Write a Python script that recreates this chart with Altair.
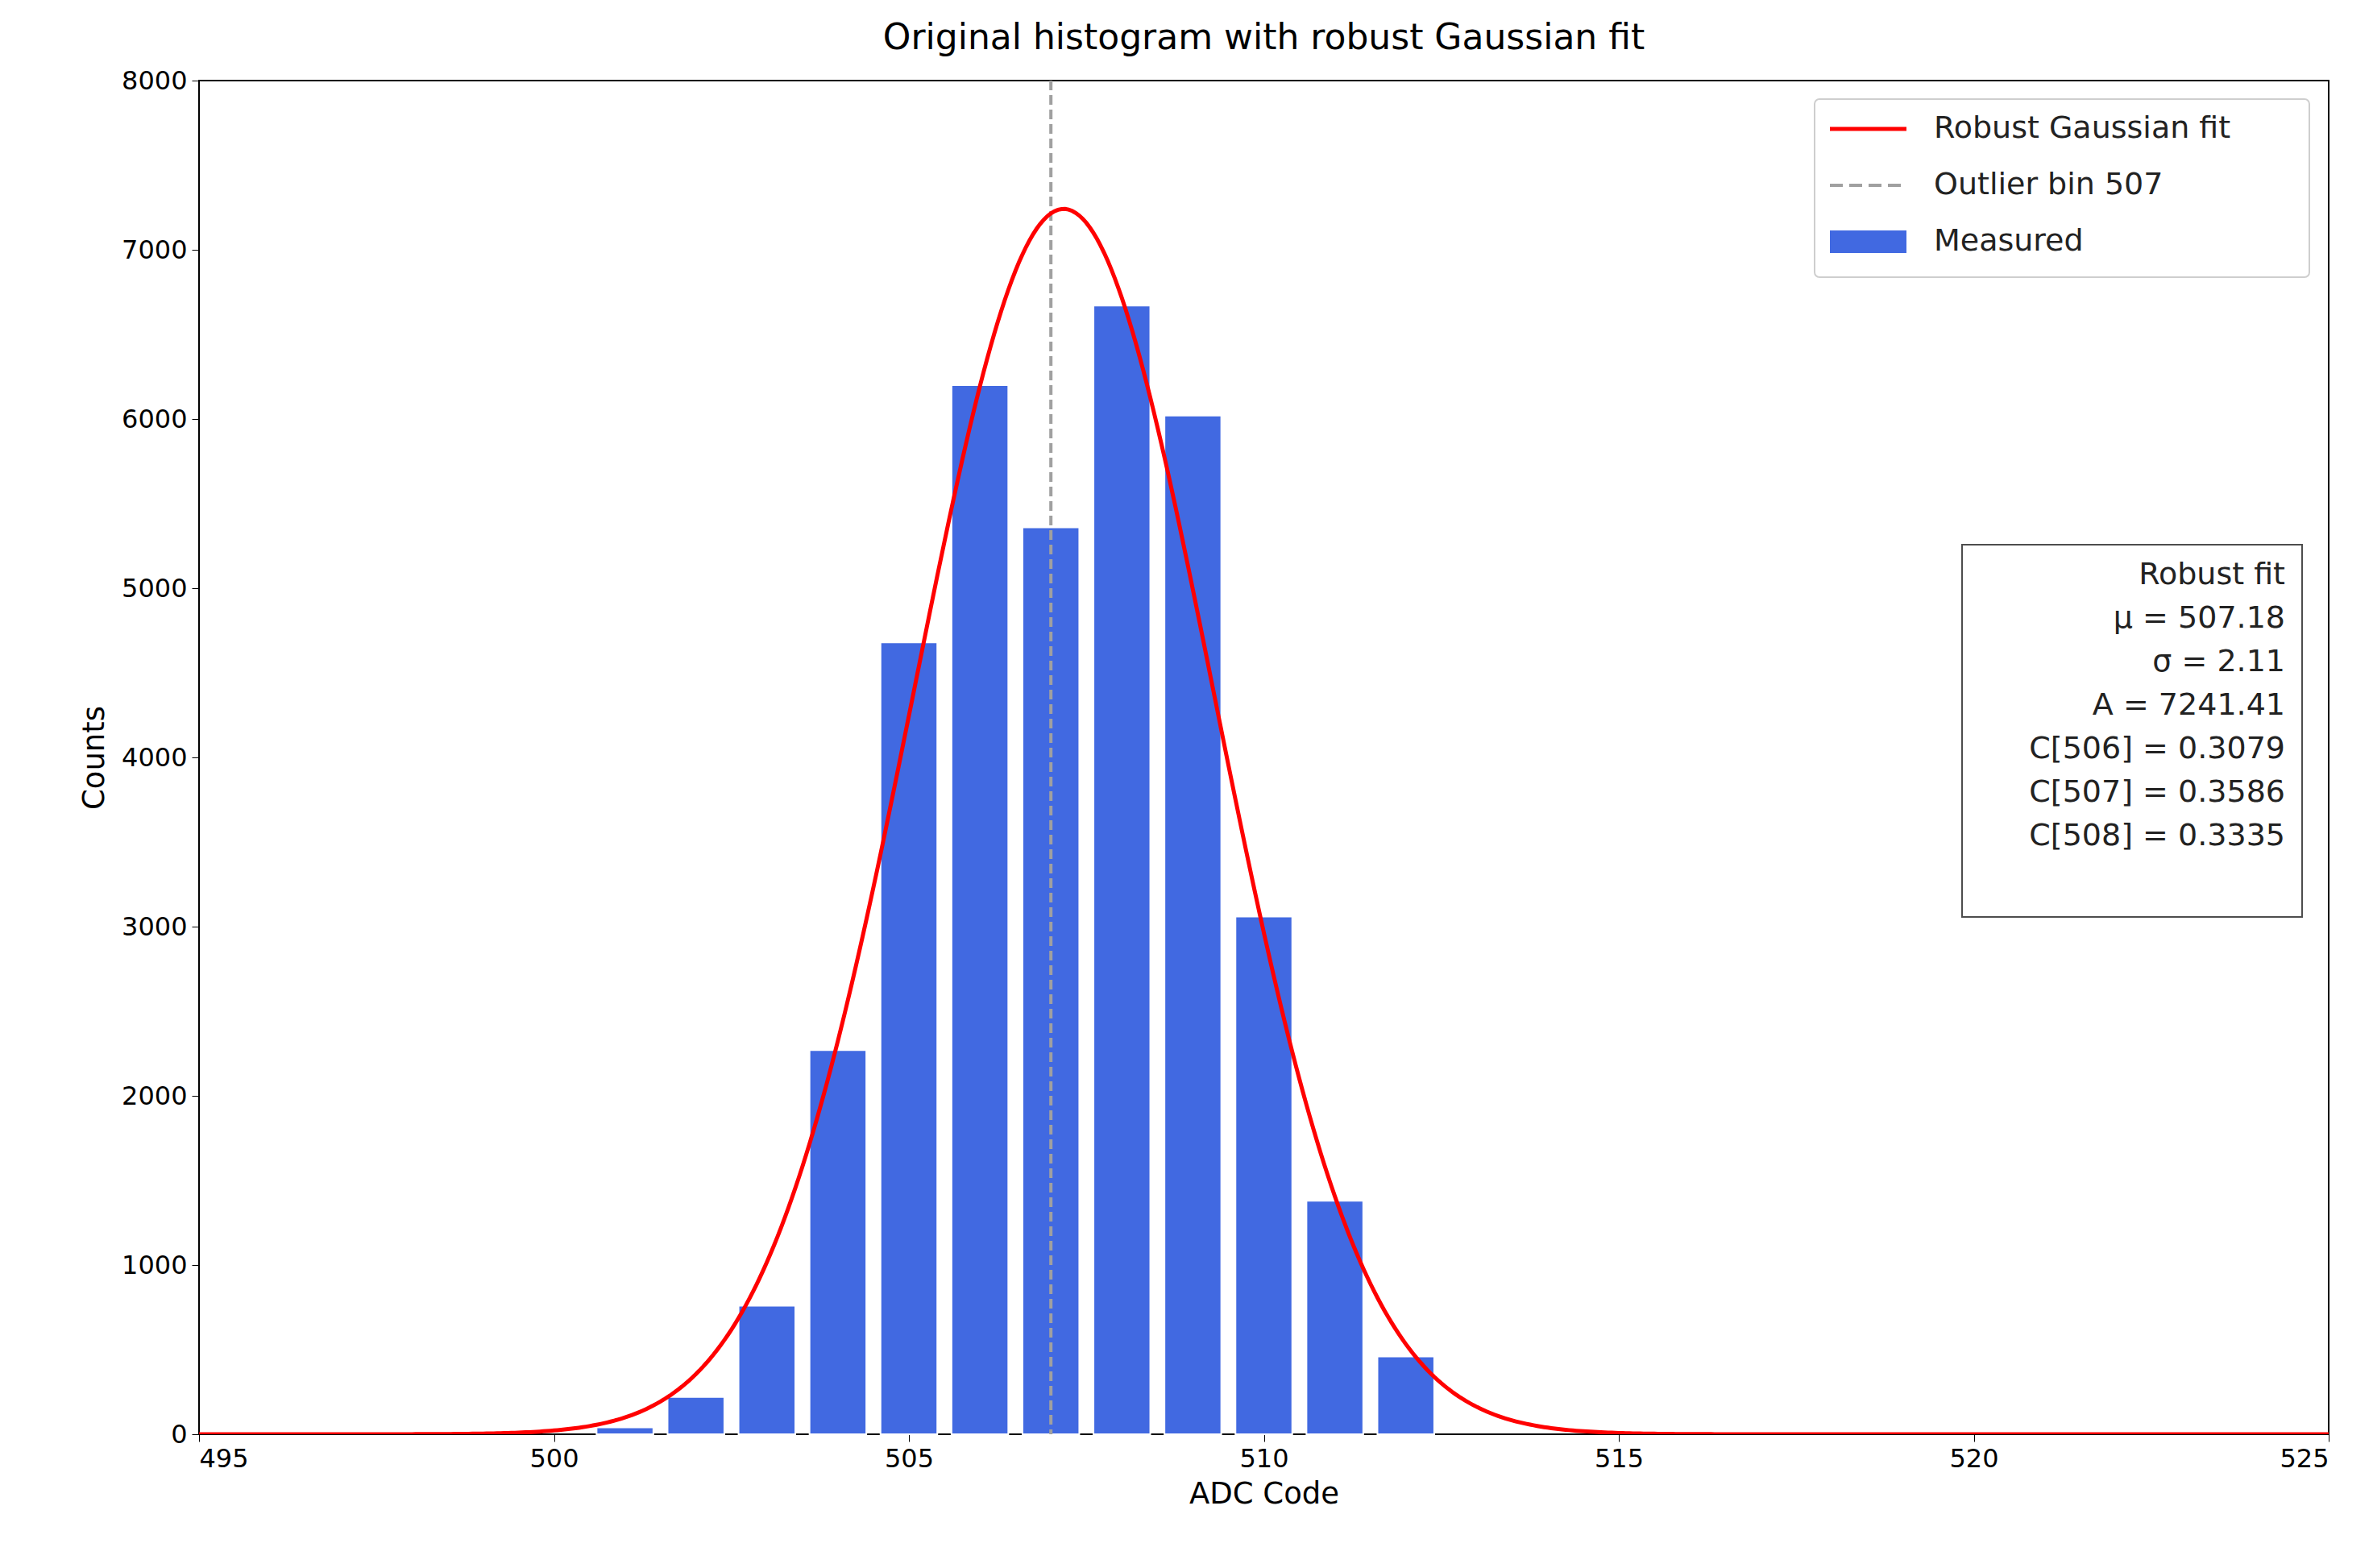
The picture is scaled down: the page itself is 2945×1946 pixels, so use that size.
import altair as alt
import numpy as np
import pandas as pd

codes = [501, 502, 503, 504, 505, 506, 507, 508, 509, 510, 511, 512]
counts = [40, 220, 760, 2270, 4680, 6200, 5360, 6670, 6020, 3060, 1380, 460]
fit_A, fit_mu, fit_sigma = 7241.41, 507.18, 2.11
outlier_bin = 507

bars = pd.DataFrame({"code": codes, "count": counts})
xs = np.linspace(495, 525, 601)
curve = pd.DataFrame({"x": xs, "y": fit_A * np.exp(-0.5 * ((xs - fit_mu) / fit_sigma) ** 2)})

F = "DejaVu Sans"
W, H = 2643, 1680
xsc = alt.Scale(domain=[495, 525], nice=False, zero=False)
ysc = alt.Scale(domain=[0, 8000], nice=False)
xax = alt.Axis(values=list(range(495, 526, 5)), format="d", grid=False, labelFontSize=32, titleFontSize=37,
               tickSize=9, labelPadding=6, titlePadding=10, domainColor="black", tickColor="black",
               labelColor="black", titleColor="black", labelFont=F, titleFont=F, titleFontWeight="normal")
yax = alt.Axis(values=list(range(0, 8001, 1000)), format="d", grid=False, labelFontSize=32, titleFontSize=37,
               tickSize=9, labelPadding=6, titlePadding=14, domainColor="black", tickColor="black",
               labelColor="black", titleColor="black", labelFont=F, titleFont=F, titleFontWeight="normal")

b = alt.Chart(bars).transform_calculate(x1="datum.code-0.4", x2="datum.code+0.4").mark_bar(
    color="#4169e1", stroke="white", strokeWidth=2).encode(
    x=alt.X("x1:Q", scale=xsc, axis=xax, title="ADC Code"), x2="x2:Q",
    y=alt.Y("count:Q", scale=ysc, axis=yax, title="Counts"), y2=alt.datum(0))
vl = alt.Chart(pd.DataFrame({"x": [outlier_bin]})).mark_rule(color="#a0a0a0", strokeDash=[12, 6], strokeWidth=4).encode(
    x=alt.X("x:Q", scale=xsc))
ln = alt.Chart(curve).mark_line(color="red", strokeWidth=5, clip=True).encode(
    x=alt.X("x:Q", scale=xsc), y=alt.Y("y:Q", scale=ysc))

one = pd.DataFrame({"a": [0]})
def box(x1, x2, y1, y2, r=0, stroke="#cccccc", sw=2):
    return alt.Chart(one).mark_rect(fill="white", stroke=stroke, strokeWidth=sw, cornerRadius=r, opacity=0.95).encode(
        x=alt.value(x1), x2=alt.value(x2), y=alt.value(y1), y2=alt.value(y2))

leg = [box(2005, 2619, 23, 244, r=6)]
leg.append(alt.Chart(one).mark_rule(color="red", strokeWidth=5).encode(x=alt.value(2024), x2=alt.value(2119), y=alt.value(60)))
leg.append(alt.Chart(one).mark_rule(color="#a0a0a0", strokeWidth=4, strokeDash=[16, 8]).encode(x=alt.value(2024), x2=alt.value(2119), y=alt.value(130)))
leg.append(alt.Chart(one).mark_rect(color="#4169e1").encode(x=alt.value(2024), x2=alt.value(2119), y=alt.value(186), y2=alt.value(214)))
for yy, t in [(60, "Robust Gaussian fit"), (130, "Outlier bin 507"), (200, "Measured")]:
    leg.append(alt.Chart(one).mark_text(text=t, align="left", baseline="middle", fontSize=38, font=F, color="#222222").encode(
        x=alt.value(2153), y=alt.value(yy)))

stats = box(2188, 2610, 576, 1038, stroke="#444444", sw=2)
lines = ["Robust fit", f"μ = {fit_mu:.2f}", f"σ = {fit_sigma:.2f}", f"A = {fit_A:.2f}", "\u00a0",
         "C[506] = 0.3079", "C[507] = 0.3586", "C[508] = 0.3335"]
st = alt.Chart(one).mark_text(text=lines, align="right", baseline="middle", fontSize=38, font=F,
                              color="#222222", lineHeight=54).encode(x=alt.value(2589), y=alt.value(614))

chart = alt.layer(b, vl, ln, *leg, stats, st).properties(
    width=W, height=H, autosize=alt.AutoSizeParams(type="none"),
    padding={"left": 239, "top": 92, "right": 40, "bottom": 140},
    title=alt.Title("Original histogram with robust Gaussian fit", fontSize=44, font=F, fontWeight="normal",
                    color="black", offset=14)
).configure_view(stroke="black", strokeWidth=2)

chart.save("out.html", embed_options={"renderer": "svg", "actions": False})
